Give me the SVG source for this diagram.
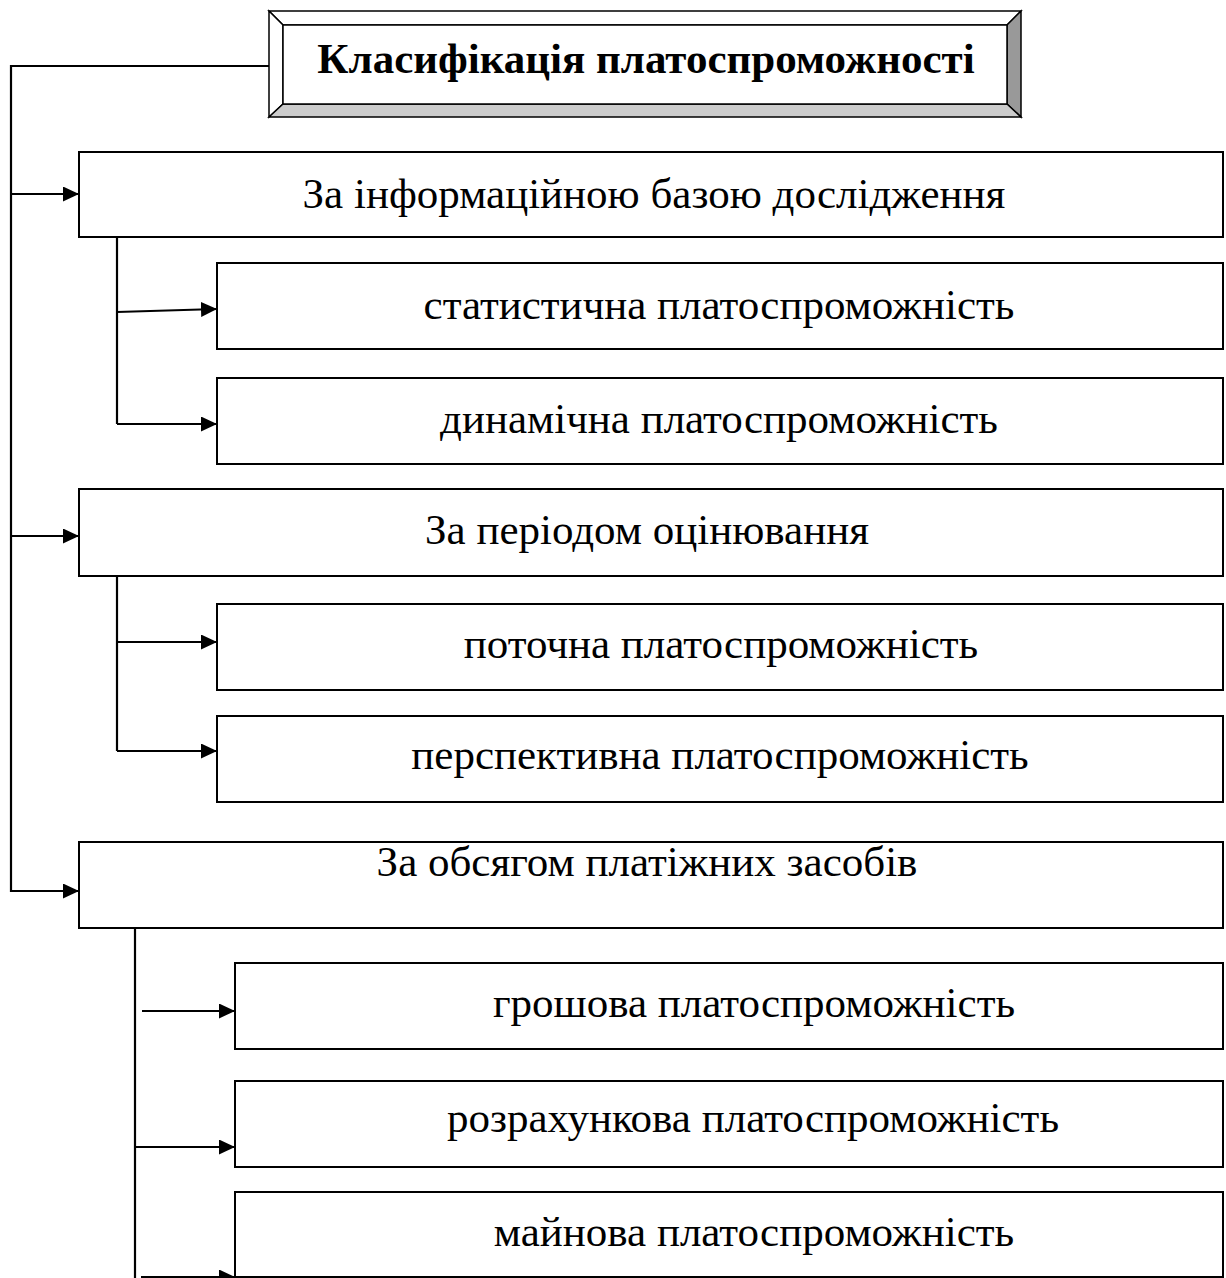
<svg xmlns="http://www.w3.org/2000/svg" width="1226" height="1278" viewBox="0 0 1226 1278">
<style>
.box{fill:#fff;stroke:#000;stroke-width:2}
.t{font-family:"Liberation Serif","Times New Roman",serif;font-size:43px;fill:#000;text-anchor:middle}
.tb{font-family:"Liberation Serif","Times New Roman",serif;font-size:43px;font-weight:bold;fill:#000;text-anchor:middle}
.c{fill:none;stroke:#000;stroke-width:2.2}
.bev{stroke:#000;stroke-width:1.5}
</style>
<defs>
<marker id="ah" markerUnits="userSpaceOnUse" markerWidth="17" markerHeight="16" refX="16" refY="7.5" orient="auto">
<path d="M0,0 L16,7.5 L0,15 z" fill="#000"/>
</marker>
</defs>
<rect width="1226" height="1278" fill="#fff"/>
<g id="title">
<polygon class="bev" points="269,11 1021,11 1007,25 283,25" fill="#fff"/>
<polygon class="bev" points="269,11 283,25 283,104 269,117" fill="#fff"/>
<polygon class="bev" points="1021,11 1021,117 1007,104 1007,25" fill="#999"/>
<polygon class="bev" points="269,117 283,104 1007,104 1021,117" fill="#ccc"/>
<rect x="283" y="25" width="724" height="79" fill="#fff" stroke="#000" stroke-width="1.5"/>
<text class="tb" x="646" y="73">Класифікація платоспроможності</text>
</g>
<g id="connectors">
<polyline class="c" points="269,66 11,66 11,891 79,891" marker-end="url(#ah)"/>
<line class="c" x1="11" y1="194" x2="79" y2="194" marker-end="url(#ah)"/>
<line class="c" x1="11" y1="536" x2="79" y2="536" marker-end="url(#ah)"/>
<line class="c" x1="117" y1="237" x2="117" y2="424"/>
<line class="c" x1="117" y1="312" x2="217" y2="309" marker-end="url(#ah)"/>
<line class="c" x1="117" y1="424" x2="217" y2="424" marker-end="url(#ah)"/>
<line class="c" x1="117" y1="576" x2="117" y2="751"/>
<line class="c" x1="117" y1="642" x2="217" y2="642" marker-end="url(#ah)"/>
<line class="c" x1="117" y1="751" x2="217" y2="751" marker-end="url(#ah)"/>
<line class="c" x1="135" y1="928" x2="135" y2="1278"/>
<line class="c" x1="142" y1="1011" x2="235" y2="1011" marker-end="url(#ah)"/>
<line class="c" x1="135" y1="1147" x2="235" y2="1147" marker-end="url(#ah)"/>
<line class="c" x1="141" y1="1277" x2="235" y2="1277" marker-end="url(#ah)"/>
</g>
<g id="n1"><rect class="box" x="79" y="152" width="1144" height="85"/><text class="t" x="654" y="208">За інформаційною базою дослідження</text></g>
<g id="n1a"><rect class="box" x="217" y="263" width="1006" height="86"/><text class="t" x="719" y="319">статистична платоспроможність</text></g>
<g id="n1b"><rect class="box" x="217" y="378" width="1006" height="86"/><text class="t" x="719" y="433">динамічна платоспроможність</text></g>
<g id="n2"><rect class="box" x="79" y="489" width="1144" height="87"/><text class="t" x="647" y="544">За періодом оцінювання</text></g>
<g id="n2a"><rect class="box" x="217" y="604" width="1006" height="86"/><text class="t" x="721" y="658">поточна платоспроможність</text></g>
<g id="n2b"><rect class="box" x="217" y="716" width="1006" height="86"/><text class="t" x="720" y="769">перспективна платоспроможність</text></g>
<g id="n3"><rect class="box" x="79" y="842" width="1144" height="86"/><text class="t" x="647" y="876">За обсягом платіжних засобів</text></g>
<g id="n3a"><rect class="box" x="235" y="963" width="988" height="86"/><text class="t" x="754" y="1017">грошова платоспроможність</text></g>
<g id="n3b"><rect class="box" x="235" y="1081" width="988" height="86"/><text class="t" x="753" y="1132">розрахункова платоспроможність</text></g>
<g id="n3c"><rect class="box" x="235" y="1192" width="988" height="85"/><text class="t" x="754" y="1246">майнова платоспроможність</text></g>
</svg>
